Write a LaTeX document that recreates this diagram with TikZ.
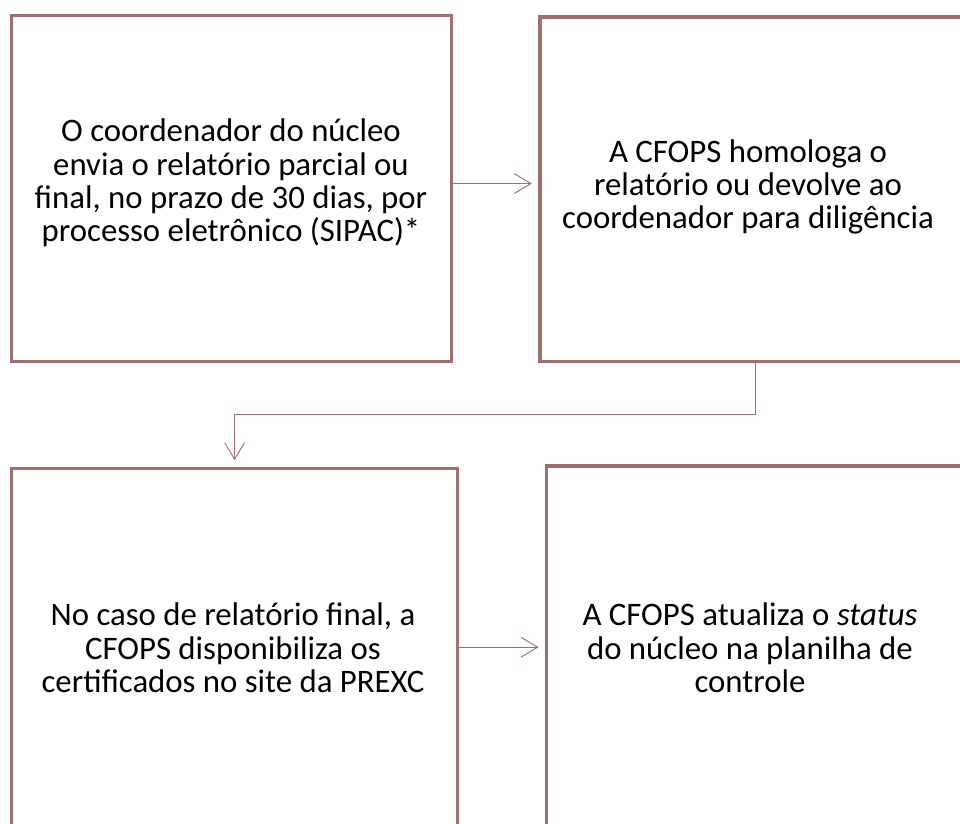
\documentclass[tikz,border=0pt]{standalone}
\usepackage{fontspec}
\setmainfont{Carlito}
\usetikzlibrary{arrows.meta,positioning,calc}
\definecolor{boxrose}{RGB}{160,110,112}

\begin{document}
\begin{tikzpicture}[x=0.03cm,y=-0.03cm,
>={Straight Barb[length=0.5cm,width=0.6cm]},
semithick]
\tikzstyle{step box}=[rectangle, draw=boxrose, line width=2.6pt]
\tikzstyle{step text}=[align=center, text=black, inner sep=0pt,
 font=\fontsize{28}{28.5}\selectfont]
\tikzstyle{link}=[->, draw=boxrose, line width=0.8pt, shorten >=0.2cm]

\useasboundingbox (0,0) rectangle (960,824);
\clip (0,0) rectangle (960,824);

\node[step box, minimum width=13.21cm, minimum height=10.39cm] (B1) at (231.6,188.6) {};
\node[step text] (T1) at (231,183) {O coordenador do núcleo\\ envia o relatório parcial ou\\ final, no prazo de 30 dias, por\\ processo eletrônico (SIPAC)*};

\node[step box, minimum width=12.9cm, minimum height=10.33cm] (B2) at (755,189.2) {};
\node[step text] (T2) at (748,187) {A CFOPS homologa o\\ relatório ou devolve ao\\ coordenador para diligência};

\node[step box, minimum width=13.39cm, minimum height=10.73cm] (B3) at (234.6,647.2) {};
\node[step text] (T3) at (233,648) {No caso de relatório final, a\\ CFOPS disponibiliza os\\ certificados no site da PREXC};

\node[step box, minimum width=12.43cm, minimum height=10.86cm] (B4) at (753.9,647) {};
\node[step text] (T4) at (750,648) {A CFOPS atualiza o \textit{status}\\ do núcleo na planilha de\\ controle};

%bend of the long link
\coordinate (bend) at (755,414);

\draw[link] ([yshift=0.15cm]B1.east) -- ([yshift=0.15cm]B1.east -| B2.west);
\draw[link, shorten <=0pt] (B2.south) -- (bend) -| (B3.north);
\draw[link] (B3.east) -- (B3.east -| B4.west);

\end{tikzpicture}
\end{document}
